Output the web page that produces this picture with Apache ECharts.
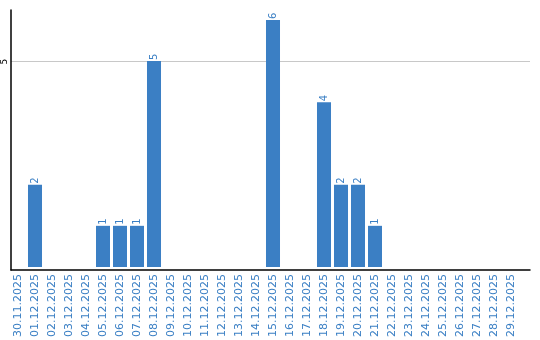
<!DOCTYPE html>
<html><head><meta charset="utf-8">
<script src="https://cdn.jsdelivr.net/npm/echarts@6/dist/echarts.min.js"></script>
<style>html,body{margin:0;padding:0;background:#fff}#c{width:540px;height:340px}</style>
</head><body><div id="c"></div>
<script>
const categories = ["30.11.2025","01.12.2025","02.12.2025","03.12.2025","04.12.2025","05.12.2025","06.12.2025","07.12.2025","08.12.2025","09.12.2025","10.12.2025","11.12.2025","12.12.2025","13.12.2025","14.12.2025","15.12.2025","16.12.2025","17.12.2025","18.12.2025","19.12.2025","20.12.2025","21.12.2025","22.12.2025","23.12.2025","24.12.2025","25.12.2025","26.12.2025","27.12.2025","28.12.2025","29.12.2025"];
const values = [0,2,0,0,0,1,1,1,5,0,0,0,0,0,0,6,0,0,4,2,2,1,0,0,0,0,0,0,0,0];
const yMax = 6.24;
const yInterval = 5;
const chart = echarts.init(document.getElementById('c'), null, {renderer:'canvas'});
chart.setOption({
  animation:false,
  grid:[
    {left:10,right:10,top:10,bottom:70,containLabel:false},
    {left:9.5,right:20.5,top:10,bottom:70,containLabel:false}
  ],
  xAxis:[
    {gridIndex:0,type:'value',min:0,max:1,
      axisLine:{show:true,onZero:false,lineStyle:{color:'#000',width:1.5}},
      axisTick:{show:false},axisLabel:{show:false},splitLine:{show:false}},
    {gridIndex:1,type:'category',data:categories,
      axisLine:{show:false},
      axisTick:{show:false},
      axisLabel:{rotate:90,color:'#3a7fc4',fontFamily:'DejaVu Sans',fontSize:11,margin:7,interval:0}
    }
  ],
  yAxis:[
    {gridIndex:0,type:'value',min:0,max:yMax,interval:yInterval,
      axisLine:{show:true,lineStyle:{color:'#000',width:1.5}},
      axisTick:{show:false},
      splitLine:{showMaxLine:false,showMinLine:false,lineStyle:{color:'#c8c8c8',width:1}},
      axisLabel:{rotate:90,color:'#000',fontFamily:'DejaVu Sans',fontSize:9,margin:2,showMaxLabel:false,
        formatter:v=>v===0?'':String(v)}
    },
    {gridIndex:1,type:'value',min:0,max:yMax,interval:yInterval,show:false}
  ],
  series:[{type:'bar',xAxisIndex:1,yAxisIndex:1,data:values.map(v=>v===0?null:v),barCategoryGap:'17.6%',
    itemStyle:{color:'#3b7fc4'},
    z:1,
    label:{show:true,position:'top',rotate:90,align:'left',verticalAlign:'middle',distance:1,
      color:'#3a7fc4',fontFamily:'DejaVu Sans',fontSize:10}
  }]
});
</script></body></html>
